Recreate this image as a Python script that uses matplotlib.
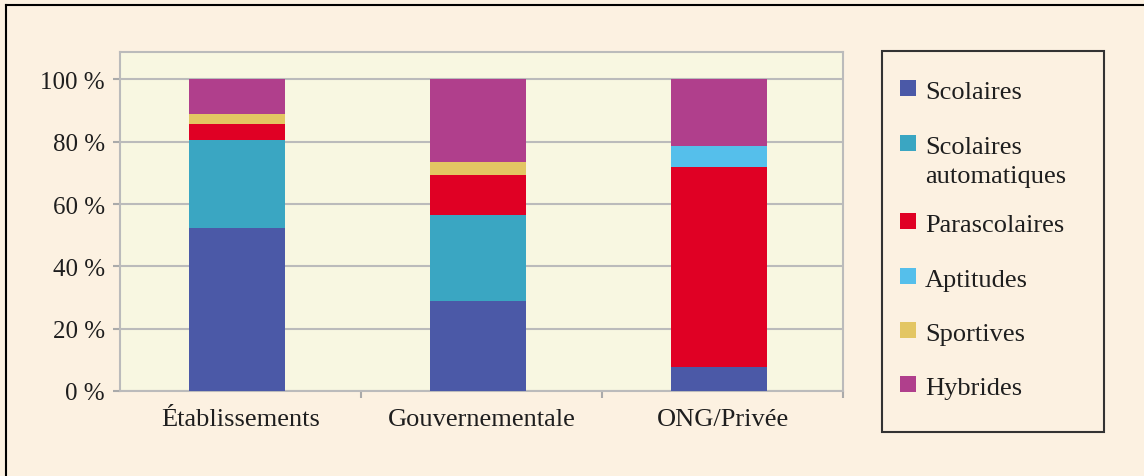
import matplotlib.pyplot as plt
import numpy as np
from matplotlib.patches import Rectangle
from matplotlib.lines import Line2D

plt.rcParams['font.family'] = ['Liberation Serif', 'DejaVu Serif']

categories = ["Établissements", "Gouvernementale", "ONG/Privée"]
series = ["Scolaires", "Scolaires\nautomatiques", "Parascolaires", "Aptitudes", "Sportives", "Hybrides"]
colors = ["#4B59A7", "#3AA6C2", "#E00024", "#55BFEB", "#E3C663", "#B03F8C"]

scolaires = [52.3, 28.9, 7.7]
scolaires_auto = [28.3, 27.7, 0.0]
parascolaires = [5.1, 12.8, 64.3]
aptitudes = [0.0, 0.0, 6.6]
sportives = [3.2, 4.1, 0.0]
hybrides = [11.1, 26.5, 21.4]
values = [scolaires, scolaires_auto, parascolaires, aptitudes, sportives, hybrides]

W, H = 1144, 477
fig = plt.figure(figsize=(W / 100, H / 100), dpi=100)
fig.patch.set_facecolor("#FCF1E1")
txtcol = "#1E1E1E"

# outer frame (left and top)
fig.add_artist(Line2D([6 / W, 6 / W], [0, 1 - 6 / H], color="black", lw=1.5))
fig.add_artist(Line2D([6 / W, 1], [1 - 6 / H, 1 - 6 / H], color="black", lw=1.5))

ax = fig.add_axes([120 / W, 1 - 392 / H, (843 - 120) / W, (392 - 53) / H])
ax.set_facecolor("#F8F7E1")

x = np.arange(len(categories))
bottom = np.zeros(len(categories))
for vals, col, lab in zip(values, colors, series):
    ax.bar(x - 0.015, vals, width=0.4, bottom=bottom, color=col, label=lab, zorder=3)
    bottom += np.array(vals)

ax.set_xlim(-0.5, 2.5)
ax.set_ylim(0, 108.8)
ax.set_yticks(range(0, 101, 20))
ax.set_yticklabels([f"{v} %" for v in range(0, 101, 20)], fontsize=18, color=txtcol)
ax.set_xticks([0.5, 1.5, 2.5], minor=False)
ax.set_xticklabels([])
ax.set_xticks(x, minor=True)
ax.set_xticklabels(categories, minor=True, fontsize=19, color=txtcol)
ax.tick_params(axis='x', which='minor', length=0, pad=12)
ax.tick_params(axis='x', which='major', length=5, color="#AAAAAA", width=1.5)
ax.tick_params(axis='y', length=5, color="#AAAAAA", width=1.5, pad=6)
ax.yaxis.grid(True, color="#BBBBBB", lw=1.5, zorder=1)
for s in ax.spines.values():
    s.set_color("#BBBBBB")
    s.set_linewidth(1.5)

# legend box, drawn by hand so the square sits on the first text line
fig.add_artist(Rectangle((882 / W, 1 - 433 / H), (1104 - 882) / W, (433 - 52) / H,
                         transform=fig.transFigure, facecolor="none", edgecolor="#333333", lw=1.5))
leg_y = [89, 144, 222, 277, 331, 385]
for yy, col, lab in zip(leg_y, colors, series):
    fig.add_artist(Rectangle((900 / W, 1 - (yy + 8) / H), 16 / W, 16 / H,
                             transform=fig.transFigure, facecolor=col, edgecolor="none"))
    fig.text(925 / W, 1 - (yy - 7) / H, lab, fontsize=19, color=txtcol,
             va="top", ha="left", linespacing=1.4)

fig.savefig("out.png", dpi=100, facecolor=fig.get_facecolor())
